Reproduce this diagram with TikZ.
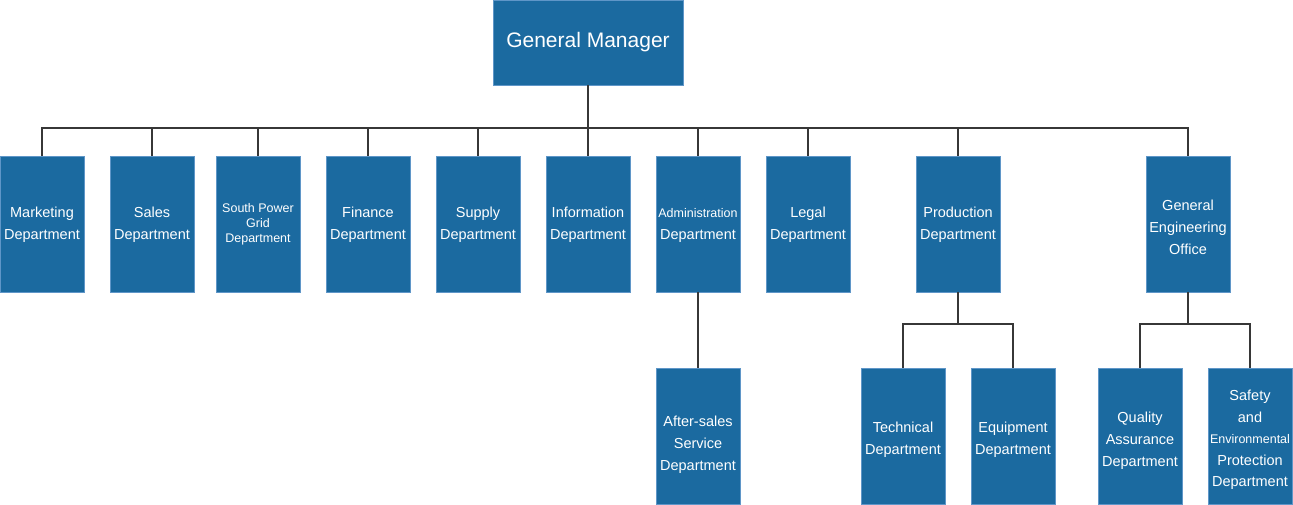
\documentclass[tikz,border=0pt]{standalone}
\usepackage{fontspec}
\setmainfont{Liberation Sans}
\definecolor{boxblue}{RGB}{27,106,160}
\definecolor{boxedge}{RGB}{95,150,200}
\definecolor{linegray}{RGB}{55,55,55}
\newcommand{\lowerby}[1]{\rule{0pt}{\dimexpr 10.5pt+2\dimexpr #1\relax\relax}}
\tikzset{
  dept/.style={rectangle, fill=boxblue, draw=boxedge, line width=0.8pt,
    minimum width=84pt, minimum height=136pt, inner sep=0pt,
    text=white, align=center, font=\fontsize{14.5}{22}\selectfont},
  conn/.style={draw=linegray, line width=2pt},
}
\begin{document}
\begin{tikzpicture}[x=1pt,y=-1pt]
\useasboundingbox (0,0) rectangle (1293,505);
\node[dept, minimum width=190pt, minimum height=85pt, font=\fontsize{21}{26}\selectfont] (gm) at (588,42.5) {\lowerby{1pt}General Manager};
\coordinate (bus) at (0,128);
\coordinate (bus2) at (0,324);
% row 1
\node[dept] (mkt) at (42,224) {\lowerby{1pt}Marketing\\Department};
\node[dept] (sal) at (152,224) {\lowerby{1pt}Sales\\Department};
\node[dept, font=\fontsize{12.5}{15}\selectfont] (spg) at (258,224) {South Power\\Grid\\Department};
\node[dept] (fin) at (368,224) {\lowerby{1pt}Finance\\Department};
\node[dept] (sup) at (478,224) {\lowerby{1pt}Supply\\Department};
\node[dept] (inf) at (588,224) {\lowerby{1pt}Information\\Department};
\node[dept] (adm) at (698,224) {\lowerby{1pt}{\fontsize{12.5}{22}\selectfont Administration}\\Department};
\node[dept] (leg) at (808,224) {\lowerby{1pt}Legal\\Department};
\node[dept] (pro) at (958,224) {\lowerby{1pt}Production\\Department};
\node[dept] (geo) at (1188,224) {\lowerby{3pt}General\\Engineering\\Office};
% row 2
\node[dept] (aft) at (698,436) {\lowerby{9pt}After-sales\\Service\\Department};
\node[dept] (tec) at (903,436) {\lowerby{4pt}Technical\\Department};
\node[dept] (equ) at (1013,436) {\lowerby{4pt}Equipment\\Department};
\node[dept] (qua) at (1140,436) {\lowerby{5pt}Quality\\Assurance\\Department};
\node[dept, font=\fontsize{14.5}{21.5}\selectfont] (saf) at (1250,436) {\lowerby{4pt}Safety\\and\\{\fontsize{12.5}{21.5}\selectfont Environmental}\\Protection\\Department};
% connectors
\foreach \c in {mkt,sal,spg,fin,sup,inf,adm,leg,pro,geo}{
  \draw[conn] (gm.south) -- (gm.south |- bus) -| (\c.north);
}
\draw[conn] (adm.south) -- (aft.north);
\foreach \c in {tec,equ}{
  \draw[conn] (pro.south) -- (pro.south |- bus2) -| (\c.north);
}
\foreach \c in {qua,saf}{
  \draw[conn] (geo.south) -- (geo.south |- bus2) -| (\c.north);
}
\end{tikzpicture}
\end{document}
